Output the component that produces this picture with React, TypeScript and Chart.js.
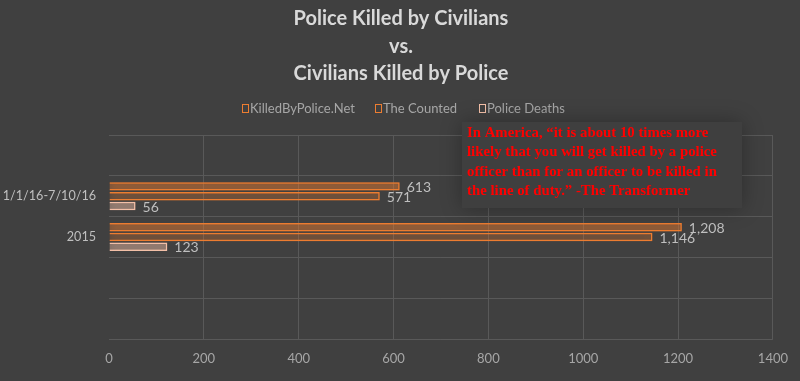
import React, { useEffect, useRef } from "react";
import { Chart, registerables } from "chart.js";

Chart.register(...registerables);

const categories = ["", "1/1/16-7/10/16", "2015", "", ""];
const killedByPoliceNet = [null, 613, 1208, null, null];
const theCounted = [null, 571, 1146, null, null];
const policeDeaths = [null, 56, 123, null, null];
const xTicks = [0, 200, 400, 600, 800, 1000, 1200, 1400];
const titleLines = ["Police Killed by Civilians", "vs.", "Civilians Killed by Police"];
const seriesNames = ["KilledByPolice.Net", "The Counted", "Police Deaths"];
const quoteLines = [
  "In America, \u201cit is about 10 times more",
  "likely that you will get killed by a police",
  "officer than for an officer to be killed in",
  "the line of duty.\u201d -The Transformer",
];

const BG = "#404040";
const TEXT = "#D9D9D9";
const AXIS_TEXT = "#BFBFBF";
const ORANGE = "#ED7D31";
const PINK = "#F4C0A8";
const FONT = "Lato, 'Open Sans', sans-serif";

export default function App() {
  const ref = useRef<HTMLCanvasElement | null>(null);

  useEffect(() => {
    const canvas = ref.current;
    if (!canvas) return;

    const decor = {
      id: "decor",
      beforeDraw(chart: any) {
        const ctx = chart.ctx;
        ctx.save();
        ctx.fillStyle = BG;
        ctx.fillRect(0, 0, chart.width, chart.height);
        ctx.restore();
      },
      beforeDatasetDraw(chart: any, args: any) {
        const ctx = chart.ctx;
        ctx.save();
        ctx.shadowColor = args.index === 2 ? "rgba(244,192,168,0.45)" : "rgba(237,125,49,0.75)";
        ctx.shadowBlur = 7;
      },
      afterDatasetDraw(chart: any) {
        chart.ctx.restore();
      },
      afterDraw(chart: any) {
        const ctx = chart.ctx;
        ctx.save();
        // title
        ctx.fillStyle = TEXT;
        ctx.font = `bold 20px ${FONT}`;
        ctx.textAlign = "center";
        ctx.textBaseline = "middle";
        titleLines.forEach((t, i) => ctx.fillText(t, 401, 19 + i * 27.5));

        // legend
        ctx.font = `13px ${FONT}`;
        ctx.textAlign = "left";
        const legendX = [242, 375, 479];
        const legendColors = [ORANGE, ORANGE, PINK];
        seriesNames.forEach((name, i) => {
          const x = legendX[i];
          ctx.strokeStyle = legendColors[i];
          ctx.lineWidth = 1;
          ctx.strokeRect(x + 0.5, 104.5, 6, 8);
          ctx.fillStyle = "#A6A6A6";
          ctx.fillText(name, x + 8, 109);
        });

        // data labels
        ctx.font = `14px ${FONT}`;
        ctx.fillStyle = AXIS_TEXT;
        ctx.textBaseline = "middle";
        chart.data.datasets.forEach((ds: any, di: number) => {
          const meta = chart.getDatasetMeta(di);
          meta.data.forEach((bar: any, j: number) => {
            const v = ds.data[j];
            if (v == null) return;
            ctx.fillText(v.toLocaleString("en-US"), bar.x + 7, bar.y + 1);
          });
        });

        // quote box
        ctx.save();
        ctx.shadowColor = "rgba(0,0,0,0.3)";
        ctx.shadowBlur = 20;
        ctx.fillStyle = "#3f3f3f";
        ctx.fillRect(462, 122, 280, 86);
        ctx.restore();
        ctx.fillStyle = "#FF0000";
        ctx.font = "bold 14.8px 'Liberation Serif', serif";
        ctx.textAlign = "left";
        quoteLines.forEach((t, i) => ctx.fillText(t, 467, 133 + i * 19.5));
        ctx.restore();
      },
    };

    const chart = new Chart(canvas, {
      type: "bar",
      data: {
        labels: categories,
        datasets: [
          {
            label: seriesNames[0],
            data: killedByPoliceNet,
            backgroundColor: "rgba(237,125,49,0.28)",
            borderColor: ORANGE,
            borderWidth: 1.5,
          },
          {
            label: seriesNames[1],
            data: theCounted,
            backgroundColor: "rgba(237,125,49,0.1)",
            borderColor: ORANGE,
            borderWidth: 1.5,
          },
          {
            label: seriesNames[2],
            data: policeDeaths,
            backgroundColor: "rgba(244,192,168,0.35)",
            borderColor: PINK,
            borderWidth: 1.5,
          },
        ] as any,
      },
      plugins: [decor],
      options: {
        indexAxis: "y",
        animation: false,
        responsive: false,
        layout: { padding: { top: 135, right: 26, left: 0, bottom: 0 } },
        plugins: {
          legend: { display: false },
          title: { display: false },
          tooltip: { enabled: false },
        },
        datasets: {
          bar: { categoryPercentage: 0.72, barPercentage: 0.86 },
        },
        scales: {
          x: {
            min: 0,
            max: 1400,
            afterBuildTicks(scale: any) {
              scale.ticks = xTicks.map((v) => ({ value: v }));
            },
            afterFit(scale: any) {
              scale.height = 42;
            },
            grid: {
              color: (c: any) => (c.tick && c.tick.value === 0 ? "rgba(0,0,0,0)" : "#595959"),
              drawTicks: false,
            },
            border: { display: false },
            ticks: {
              color: "#A6A6A6",
              font: { family: FONT, size: 13 },
              padding: 12,
              callback: (v: any) => String(v),
            },
          },
          y: {
            afterFit(scale: any) {
              scale.width = 109;
            },
            grid: { color: "#595959", drawTicks: false, offset: true },
            border: { display: false },
            ticks: {
              color: AXIS_TEXT,
              font: { family: FONT, size: 12.6 },
              padding: 13,
            },
          },
        },
      } as any,
    });
    return () => chart.destroy();
  }, []);

  return (
    <div style={{ position: "fixed", left: 0, top: 0, width: 800, height: 381, background: BG }}>
      <canvas ref={ref} width={800} height={381} style={{ display: "block", width: 800, height: 381 }} />
    </div>
  );
}
